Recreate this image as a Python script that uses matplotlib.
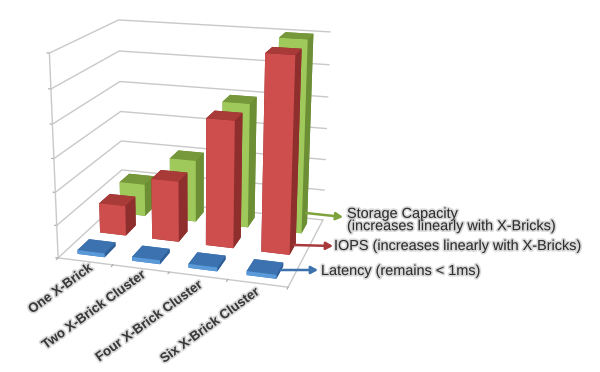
import numpy as np
import matplotlib
matplotlib.use("Agg")
import matplotlib.pyplot as plt
import matplotlib.patheffects as pe

plt.rcParams["font.family"] = ["Liberation Sans", "DejaVu Sans"]

categories = ["One X-Brick", "Two X-Brick Cluster", "Four X-Brick Cluster", "Six X-Brick Cluster"]
latency = [0.12, 0.12, 0.12, 0.12]
iops = [0.95, 1.9, 3.9, 5.9]
capacity = [1.05, 2.0, 3.95, 6.0]
z_ticks = [0, 1, 2, 3, 4, 5, 6]

# face order in bar3d: bottom, top, front, back, left, right
latency_faces = ["#3f78b8", "#3d72b0", "#5a9ad8", "#3d72b0", "#3d72b0", "#2f5f98"]
iops_faces = ["#8f2f2d", "#a83a38", "#cd4e4c", "#8f2f2d", "#8f2f2d", "#8f2f2d"]
capacity_faces = ["#6c8f35", "#76983a", "#9fc95a", "#6c8f35", "#6c8f35", "#6c8f35"]

W, H = 600, 372
fig = plt.figure(figsize=(W / 100, H / 100), dpi=100)
ax = fig.add_axes([19.34 / W, 51.92 / H, 345.08 / W, 345.08 / H], projection="3d")
ax.view_init(elev=17.11, azim=-73.01)
ax.set_proj_type("persp", focal_length=0.5557)
ax.set_box_aspect((1, 0.7687, 0.8904))
ax.set_xlim(0, 4)
ax.set_ylim(0, 3)
ax.set_zlim(0, 6)
ax.set_axis_off()
ax.computed_zorder = False

grid = "#c9c9c9"
for z in z_ticks:
    ax.plot([0, 0, 4], [0, 3, 3], [z, z, z], color=grid, lw=1.0, zorder=1)
    ax.plot([-0.04, 0], [0, 0], [z, z], color="#a8a8a8", lw=0.8, zorder=1)
ax.plot([0, 0], [0, 0], [0, 6], color=grid, lw=1.0, zorder=1)
ax.plot([0, 4, 4], [0, 0, 3], [0, 0, 0], color=grid, lw=1.0, zorder=1)
for x in range(5):
    ax.plot([x, x], [-0.07, 0], [0, 0], color="#a8a8a8", lw=0.8, zorder=1)

width = 0.5
n = len(categories)
xs, ys, heights, faces = [], [], [], []
for row, (values, colors) in enumerate([(latency, latency_faces), (iops, iops_faces), (capacity, capacity_faces)]):
    for i in range(n):
        xs.append(i + 0.5 - width / 2)
        ys.append(row + 0.5 - width / 2)
        heights.append(values[i])
        faces.extend(colors)
ax.bar3d(xs, ys, np.zeros(len(xs)), width, width, heights, color=faces, shade=False, linewidth=0, zorder=2)

shadow = [pe.Stroke(linewidth=2.4, foreground="#777777", alpha=0.28), pe.Normal()]
label_ends = [(88, 262), (141, 269), (198, 279), (255, 286)]
for label, (x, y) in zip(categories, label_ends):
    fig.text(x / W, 1 - y / H, label, rotation=36, rotation_mode="anchor", ha="right", va="top",
             fontsize=9.5, fontweight="bold", color="#3a3a3a", path_effects=shadow)

# callouts
callouts = [
    ((306, 213), (343, 217), "#7ea33c"),
    ((294, 245), (333, 246), "#a83a3c"),
    ((281, 270), (318, 270), "#3d72ac"),
]
for start, end, color in callouts:
    ax.annotate("", xy=(end[0], H - end[1]), xycoords="figure pixels",
                xytext=(start[0], H - start[1]), textcoords="figure pixels",
                arrowprops=dict(arrowstyle="-|>,head_width=0.22,head_length=0.4", color=color, lw=1.8,
                                shrinkA=0, shrinkB=0), zorder=6)

notes = [
    (347, 220, "Storage Capacity\n(increases linearly with X-Bricks)"),
    (334, 246, "IOPS (increases linearly with X-Bricks)"),
    (321, 271, "Latency (remains < 1ms)"),
]
for x, y, s in notes:
    fig.text(x / W, 1 - y / H, s, fontsize=10.4, color="#2f2f2f", va="center", ha="left", linespacing=0.85,
             path_effects=shadow)

fig.savefig("out.png", dpi=100, facecolor="white")
